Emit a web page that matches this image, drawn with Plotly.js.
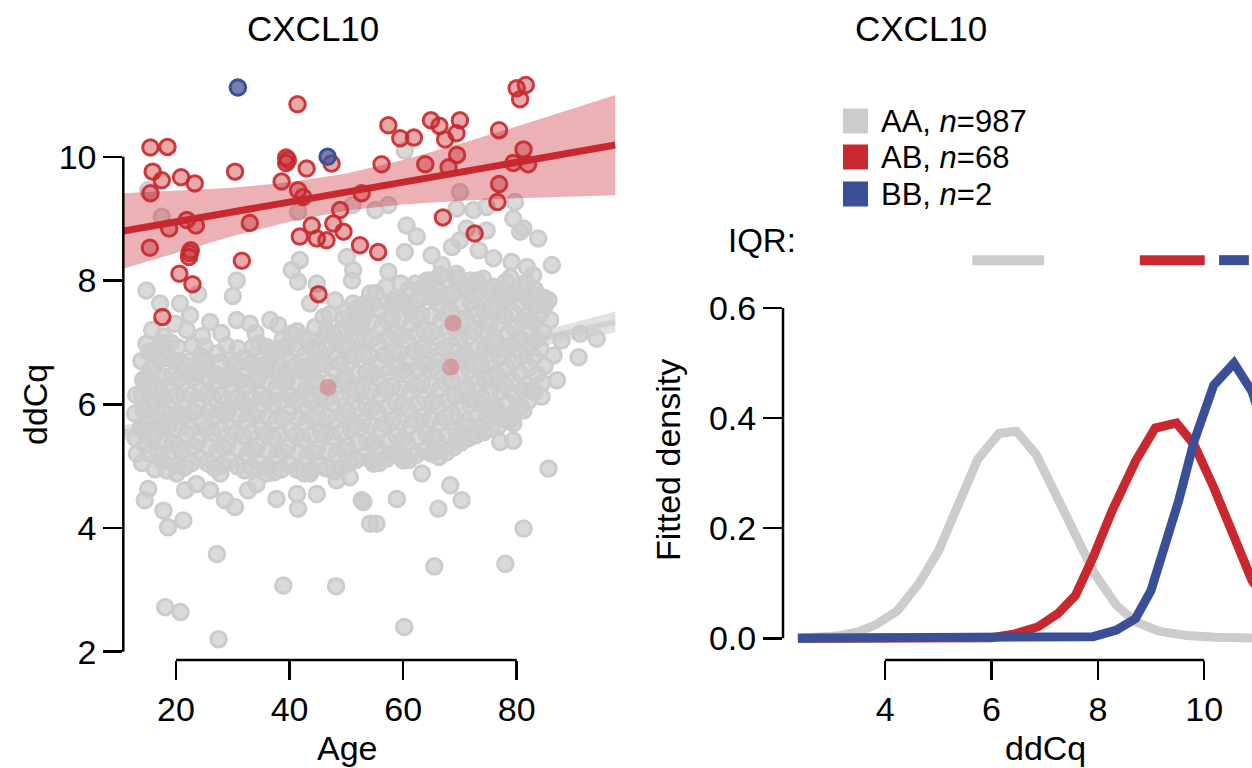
<!DOCTYPE html>
<html><head><meta charset="utf-8">
<script src="https://cdn.plot.ly/plotly-3.0.1.min.js"></script>
<style>html,body{margin:0;padding:0;background:#fff}#chart{width:1252px;height:768px}</style>
</head><body><div id="chart"></div>
<script>
// ---------- DATA ----------
const panelTitle = 'CXCL10';
const groupLabels = ['AA', 'AB', 'BB'];
const groupN = [987, 68, 2];

// AA genotype: [age, ddCq]
const aaPoints = [
 // upper / edge points
 [15.1,9.46],[17.5,9.03],[41.5,9.11],[51.1,9.22],[60.3,10.10],
 [40.4,8.17],[41.8,8.33],[41.5,7.98],[44.8,7.95],[50.1,8.38],[51.2,8.17],[51.0,8.00],[30.7,8.00],[30.0,7.75],
 [14.8,7.84],[17.2,7.63],[20.7,7.63],[23.9,7.78],[22.5,7.44],[26.0,7.33],[30.7,7.36],[33.0,7.30],[36.6,7.36],
 [38.0,7.28],[40.4,7.14],[43.6,7.63],[46.0,7.41],[48.0,7.68],[51.2,7.63],[46.5,7.14],[49.5,7.38],[53.0,7.41],
 [14.8,6.98],[17.8,7.09],[25.1,6.93],[27.2,6.82],[28.9,6.95],[32.2,6.76],[36.6,6.87],[21.9,7.20],[19.5,6.71],
 [14.2,6.39],[22.5,6.49],[25.4,6.60],[26.9,6.49],[30.1,6.44],[36.0,6.55],[39.5,6.49],[43.6,7.03],[42.4,6.60],
 [48.3,7.03],[51.8,7.25],[12.8,5.85],[13.0,6.15],[12.9,5.45],
 [15.8,7.20],[19.8,7.30],[24.6,7.10],[28.0,7.15],[34.0,7.15],[38.8,7.05],[44.5,7.25],[47.0,7.45],[50.0,7.50],
 // lower edge
 [13.1,5.20],[14.2,5.58],[15.1,4.63],[14.5,4.45],[17.8,4.28],[18.6,4.01],[21.3,4.12],[27.2,3.58],[18.4,4.93],
 [21.6,4.61],[23.6,4.71],[26.0,4.61],[28.6,4.45],[30.4,4.34],[32.7,4.61],[34.2,4.71],[37.7,4.47],[41.3,4.55],
 [41.5,4.31],[44.8,4.55],[48.3,4.77],[50.6,4.82],[52.7,4.45],[54.2,4.07],[20.1,4.88],[27.8,4.88],[36.0,4.88],[43.6,4.88],
 // low outliers
 [18.1,2.72],[20.8,2.64],[27.5,2.20],[38.9,3.07],[48.2,3.06],[60.2,2.40],[65.5,3.38],[78.0,3.42],
 // older ages
 [70.0,9.43],[69.4,9.16],[72.4,9.14],[74.7,9.19],[79.7,9.27],[57.4,9.22],[55.1,9.14],[60.6,8.89],[62.4,8.71],
 [60.3,8.46],[65.0,8.41],[66.8,8.25],[68.6,8.54],[70.0,8.65],[71.2,8.84],[74.7,8.81],[79.4,9.00],[81.2,8.84],
 [83.8,8.68],[80.6,8.79],[73.3,8.49],[66.5,8.09],[69.4,8.11],[75.9,8.36],[79.1,8.30],[81.8,8.22],[82.9,8.09],
 [86.2,8.25],[57.4,8.14],[54.2,7.79],[58.3,7.63],[63.6,7.90],[65.9,7.74],[71.8,8.00],[75.9,7.90],[78.8,7.74],
 [82.9,7.79],[85.6,7.68],[85.0,7.60],[85.9,7.36],[61.2,7.52],[82.4,7.36],[87.9,7.03],[91.2,7.14],[94.1,7.06],
 [86.5,6.79],[90.9,6.76],[87.1,6.39],[84.4,6.12],[82.6,6.22],[81.2,5.90],[79.4,5.69],[78.8,5.74],[77.1,5.39],
 [79.4,5.41],[85.6,4.96],[68.3,4.69],[70.3,4.45],[66.2,4.31],[58.9,4.47],[53.0,4.42],[55.3,4.07],[81.2,3.99],
 [63.3,4.88],[65.6,5.25],[69.4,5.41],[73.5,5.63],[75.3,5.95],[77.1,5.79],[60.0,5.09],[57.7,5.20],[54.8,5.04],
 // dense core
 [14.0,5.05],[14.5,5.35],[13.8,5.62],[14.3,5.90],[14.0,6.15],[14.6,6.42],[13.9,6.70],
 [16.3,4.95],[16.8,5.22],[16.1,5.48],[16.6,5.76],[16.2,6.03],[16.7,6.30],[16.0,6.58],[16.5,6.85],
 [18.9,5.10],[19.4,5.37],[18.7,5.65],[19.2,5.92],[18.8,6.20],[19.3,6.47],[18.6,6.75],[19.1,7.00],
 [21.5,4.98],[21.0,5.25],[21.8,5.52],[21.2,5.80],[21.6,6.08],[21.1,6.35],[21.7,6.62],
 [24.2,5.12],[23.8,5.40],[24.5,5.68],[23.9,5.95],[24.4,6.22],[23.7,6.50],[24.3,6.78],
 [26.8,4.97],[27.3,5.25],[26.6,5.53],[27.1,5.82],[26.5,6.10],[27.2,6.38],
 [29.5,5.08],[29.0,5.35],[29.8,5.62],[29.2,5.90],[29.7,6.18],[29.1,6.45],[29.6,6.72],
 [32.1,4.93],[32.6,5.20],[31.9,5.48],[32.4,5.75],[31.8,6.03],[32.5,6.30],[32.0,6.58],
 [34.8,5.05],[34.3,5.33],[35.1,5.60],[34.5,5.88],[35.0,6.15],[34.4,6.42],[34.9,6.70],[34.6,6.98],
 [37.3,4.90],[37.8,5.18],[37.1,5.45],[37.6,5.73],[37.0,6.00],[37.7,6.28],[37.2,6.55],[37.5,6.83],
 [40.0,5.02],[39.6,5.30],[40.3,5.57],[39.8,5.85],[40.2,6.12],[39.5,6.40],[40.1,6.68],[39.7,6.95],
 [42.6,4.88],[43.0,5.15],[42.3,5.43],[42.8,5.70],[42.4,5.98],[42.9,6.25],[42.2,6.53],[42.7,6.80],[42.5,7.08],
 [45.2,5.00],[44.8,5.28],[45.5,5.55],[45.0,5.83],[45.4,6.10],[44.7,6.38],[45.3,6.65],[44.9,6.93],
 [47.9,4.92],[48.3,5.20],[47.6,5.47],[48.1,5.75],[47.5,6.02],[48.2,6.30],[47.7,6.57],[48.0,6.85],[47.8,7.12],
 [50.5,5.05],[50.1,5.32],[50.8,5.60],[50.2,5.87],[50.7,6.15],[50.0,6.42],[50.6,6.70],[50.3,6.97],[50.9,7.25],
 [53.1,5.15],[53.6,5.42],[52.9,5.70],[53.4,5.97],[52.8,6.25],[53.5,6.52],[53.0,6.80],[53.3,7.07],[52.7,7.35],[53.2,7.62],
 [55.8,5.05],[55.3,5.32],[56.1,5.60],[55.5,5.88],[56.0,6.15],[55.4,6.43],[55.9,6.70],[55.6,6.98],[56.2,7.25],[55.7,7.52],[55.2,7.80],
 [58.4,5.20],[58.9,5.48],[58.2,5.75],[58.7,6.03],[58.1,6.30],[58.8,6.58],[58.3,6.85],[58.6,7.13],[58.0,7.40],[58.5,7.68],
 [61.0,5.10],[60.6,5.38],[61.3,5.65],[60.8,5.93],[61.2,6.20],[60.5,6.48],[61.1,6.75],[60.7,7.03],[61.4,7.30],[60.9,7.58],[61.0,7.85],
 [63.7,5.25],[64.1,5.52],[63.4,5.80],[63.9,6.08],[63.3,6.35],[64.0,6.63],[63.5,6.90],[63.8,7.18],[63.2,7.45],[63.6,7.73],[64.2,8.00],
 [66.3,5.15],[65.9,5.43],[66.6,5.70],[66.1,5.98],[66.5,6.25],[65.8,6.53],[66.4,6.80],[66.0,7.08],[66.7,7.35],[66.2,7.63],[65.7,7.90],
 [68.9,5.30],[69.3,5.58],[68.6,5.85],[69.1,6.13],[68.5,6.40],[69.2,6.68],[68.7,6.95],[69.0,7.23],[68.4,7.50],[68.8,7.78],[69.4,8.05],
 [71.5,5.45],[71.1,5.72],[71.8,6.00],[71.3,6.27],[71.7,6.55],[71.0,6.82],[71.6,7.10],[71.2,7.37],[71.9,7.65],[71.4,7.92],
 [74.2,5.55],[74.6,5.83],[73.9,6.10],[74.4,6.38],[73.8,6.65],[74.5,6.93],[74.0,7.20],[74.3,7.48],[73.7,7.75],[74.1,8.03],
 [76.8,5.65],[76.4,5.92],[77.1,6.20],[76.6,6.47],[77.0,6.75],[76.3,7.02],[76.9,7.30],[76.5,7.57],[77.2,7.85],
 [79.4,5.85],[79.8,6.12],[79.1,6.40],[79.6,6.67],[79.0,6.95],[79.7,7.22],[79.2,7.50],[79.5,7.77],[78.9,8.05],
 [82.0,6.05],[81.6,6.32],[82.3,6.60],[81.8,6.87],[82.2,7.15],[81.5,7.42],[82.1,7.70],[81.7,7.97],
 [84.5,6.35],[84.9,6.62],[84.2,6.90],[84.7,7.17],[84.1,7.45],[84.8,7.72],
 // dense core, second layer
 [15.2,5.20],[15.4,5.48],[15.0,5.76],[15.3,6.03],[15.1,6.30],[15.5,6.57],[15.2,6.85],
 [17.6,5.08],[17.9,5.36],[17.4,5.62],[17.7,5.90],[17.5,6.16],[17.8,6.44],[17.3,6.72],[17.6,6.98],
 [20.2,5.02],[20.5,5.30],[20.0,5.58],[20.4,5.86],[20.1,6.14],[20.6,6.42],[19.9,6.70],[20.3,6.92],
 [22.8,5.05],[23.1,5.32],[22.6,5.60],[23.0,5.88],[22.7,6.15],[23.2,6.43],[22.5,6.70],[22.9,6.95],
 [25.5,5.05],[25.8,5.32],[25.3,5.60],[25.7,5.88],[25.4,6.16],[25.9,6.44],[25.2,6.72],
 [28.1,5.02],[28.4,5.30],[27.9,5.58],[28.3,5.86],[28.0,6.14],[28.5,6.42],[27.8,6.68],
 [30.8,5.00],[31.1,5.28],[30.6,5.55],[31.0,5.82],[30.7,6.10],[31.2,6.38],[30.5,6.65],[30.9,6.90],
 [33.4,4.98],[33.7,5.26],[33.2,5.54],[33.6,5.82],[33.3,6.10],[33.8,6.38],[33.1,6.66],[33.5,6.92],
 [36.0,4.97],[36.3,5.25],[35.8,5.52],[36.2,5.80],[35.9,6.08],[36.4,6.36],[35.7,6.64],[36.1,6.92],
 [38.6,4.95],[38.9,5.23],[38.4,5.50],[38.8,5.78],[38.5,6.06],[39.0,6.34],[38.3,6.62],[38.7,6.90],
 [41.3,4.94],[41.6,5.22],[41.1,5.50],[41.5,5.78],[41.2,6.06],[41.7,6.34],[41.0,6.62],[41.4,6.90],[41.3,7.18],
 [43.9,4.94],[44.2,5.22],[43.7,5.50],[44.1,5.78],[43.8,6.06],[44.3,6.34],[43.6,6.62],[44.0,6.90],
 [46.5,4.96],[46.8,5.24],[46.3,5.52],[46.7,5.80],[46.4,6.08],[46.9,6.36],[46.2,6.64],[46.6,6.92],[46.5,7.20],
 [49.2,4.98],[49.5,5.26],[49.0,5.54],[49.4,5.82],[49.1,6.10],[49.6,6.38],[48.9,6.66],[49.3,6.94],[49.2,7.22],
 [51.8,5.10],[52.1,5.38],[51.6,5.66],[52.0,5.94],[51.7,6.22],[52.2,6.50],[51.5,6.78],[51.9,7.06],[51.8,7.34],[52.0,7.55],
 [54.4,5.10],[54.7,5.38],[54.2,5.66],[54.6,5.94],[54.3,6.22],[54.8,6.50],[54.1,6.78],[54.5,7.06],[54.4,7.34],[54.6,7.62],
 [57.1,5.12],[57.4,5.40],[56.9,5.68],[57.3,5.96],[57.0,6.24],[57.5,6.52],[56.8,6.80],[57.2,7.08],[57.1,7.36],[57.3,7.64],[57.0,7.90],
 [59.7,5.15],[60.0,5.43],[59.5,5.71],[59.9,5.99],[59.6,6.27],[60.1,6.55],[59.4,6.83],[59.8,7.11],[59.7,7.39],[59.9,7.67],[59.6,7.95],
 [62.3,5.18],[62.6,5.46],[62.1,5.74],[62.5,6.02],[62.2,6.30],[62.7,6.58],[62.0,6.86],[62.4,7.14],[62.3,7.42],[62.5,7.70],[62.2,7.95],
 [65.0,5.20],[65.3,5.48],[64.8,5.76],[65.2,6.04],[64.9,6.32],[65.4,6.60],[64.7,6.88],[65.1,7.16],[65.0,7.44],[65.2,7.72],[64.9,8.00],
 [67.6,5.22],[67.9,5.50],[67.4,5.78],[67.8,6.06],[67.5,6.34],[68.0,6.62],[67.3,6.90],[67.7,7.18],[67.6,7.46],[67.8,7.74],[67.5,8.02],
 [70.2,5.38],[70.5,5.66],[70.0,5.94],[70.4,6.22],[70.1,6.50],[70.6,6.78],[69.9,7.06],[70.3,7.34],[70.2,7.62],[70.4,7.90],
 [72.8,5.50],[73.1,5.78],[72.6,6.06],[73.0,6.34],[72.7,6.62],[73.2,6.90],[72.5,7.18],[72.9,7.46],[72.8,7.74],[73.0,8.00],
 [75.5,5.60],[75.8,5.88],[75.3,6.16],[75.7,6.44],[75.4,6.72],[75.9,7.00],[75.2,7.28],[75.6,7.56],[75.5,7.84],
 [78.1,5.75],[78.4,6.03],[77.9,6.31],[78.3,6.59],[78.0,6.87],[78.5,7.15],[77.8,7.43],[78.2,7.71],[78.1,7.98],
 [80.7,5.95],[81.0,6.23],[80.5,6.51],[80.9,6.79],[80.6,7.07],[81.1,7.35],[80.4,7.63],[80.8,7.91],
 [83.2,6.20],[83.5,6.48],[83.0,6.76],[83.4,7.04],[83.1,7.32],[83.6,7.60],[83.2,7.85]
];

// AB genotype: [age, ddCq]
const abPoints = [
 [15.5,10.15],[18.5,10.16],[15.9,9.76],[17.5,9.62],[20.9,9.67],[23.3,9.57],[15.5,9.41],[30.4,9.76],
 [39.4,9.99],[39.4,9.90],[43.0,9.81],[38.6,9.60],[41.5,9.46],[42.4,9.35],[47.4,9.89],[21.9,8.98],
 [23.5,8.89],[18.8,8.84],[33.0,8.93],[15.4,8.53],[22.6,8.49],[22.3,8.38],[20.6,8.11],[22.9,7.94],
 [17.6,7.41],[31.6,8.32],[52.7,9.41],[48.9,9.14],[43.9,8.89],[41.8,8.71],[44.8,8.68],[46.5,8.65],
 [47.7,8.92],[49.5,8.79],[52.4,8.57],[45.1,7.78],[56.2,9.88],[63.9,9.88],[68.0,9.83],[69.5,10.03],
 [79.4,9.90],[81.2,10.12],[82.0,9.88],[76.9,9.56],[76.6,9.27],[67.0,9.02],[72.6,8.76],[55.6,8.46],
 [57.4,10.51],[59.5,10.30],[61.9,10.31],[64.9,10.59],[66.4,10.50],[67.4,10.28],[69.4,10.38],[70.0,10.59],
 [76.9,10.43],[80.0,11.11],[81.6,11.16],[80.6,10.93],[41.4,10.85],[39.7,9.95],[22.4,8.44]
];
// AB points hidden under the AA cloud
const abCoveredPoints = [[68.8,7.31],[68.4,6.60],[46.8,6.27]];

// BB genotype: [age, ddCq]
const bbPoints = [[30.9,11.12],[46.7,10.00]];

// linear fits with confidence bands
const fitAge  = [10.72, 20, 30, 40, 50, 60, 70, 80, 90, 97.4];
const abFit   = [8.80, 8.95, 9.11, 9.27, 9.43, 9.59, 9.75, 9.91, 10.07, 10.19];
const abUpper = [9.41, 9.45, 9.50, 9.59, 9.73, 9.95, 10.21, 10.49, 10.78, 11.00];
const abLower = [8.19, 8.45, 8.72, 8.95, 9.13, 9.23, 9.29, 9.33, 9.36, 9.38];
const aaFit   = [5.54, 5.73, 5.94, 6.14, 6.35, 6.56, 6.76, 6.97, 7.18, 7.33];
const aaUpper = [5.66, 5.82, 6.01, 6.19, 6.40, 6.62, 6.84, 7.08, 7.32, 7.50];
const aaLower = [5.42, 5.64, 5.87, 6.09, 6.30, 6.50, 6.68, 6.86, 7.04, 7.16];

// fitted densities
const aaDensX = [2.36, 3.10, 3.50, 3.83, 4.23, 4.64, 5.00, 5.34, 5.74, 6.14, 6.47, 6.84, 7.21, 7.58, 7.94, 8.35, 8.71, 9.15, 9.67, 10.20, 10.90, 11.30];
const aaDensY = [0.000, 0.004, 0.012, 0.025, 0.050, 0.100, 0.158, 0.238, 0.325, 0.372, 0.376, 0.334, 0.262, 0.184, 0.117, 0.060, 0.030, 0.013, 0.005, 0.002, 0.001, 0.000];
const abDensX = [2.36, 6.00, 6.44, 6.88, 7.25, 7.58, 7.91, 8.27, 8.71, 9.08, 9.48, 9.81, 10.18, 10.55, 10.90, 11.30];
const abDensY = [0.000, 0.001, 0.008, 0.021, 0.045, 0.078, 0.147, 0.232, 0.322, 0.382, 0.391, 0.352, 0.274, 0.184, 0.105, 0.050];
const bbDensX = [2.36, 7.50, 7.91, 8.35, 8.71, 9.00, 9.26, 9.52, 9.81, 10.18, 10.56, 10.90, 11.30];
const bbDensY = [0.000, 0.000, 0.003, 0.015, 0.036, 0.087, 0.165, 0.250, 0.358, 0.460, 0.500, 0.448, 0.330];

// interquartile ranges of ddCq per genotype
const iqrLow  = [5.64, 8.79, 10.28];
const iqrHigh = [6.99, 10.01, 10.84];

// ticks
const ageTicks = [20, 40, 60, 80];
const ddcqTicks = [2, 4, 6, 8, 10];
const densTicks = [0, 0.2, 0.4, 0.6];
const densTickText = ['0.0', '0.2', '0.4', '0.6'];
const ddcqTicks2 = [4, 6, 8, 10];

// ---------- STYLE ----------
const FONT = 'Liberation Sans, Arial, Helvetica, sans-serif';
const GRAY = '#cccccc', RED = '#c8282e', BLUE = '#3b4f96';
const colors = [GRAY, RED, BLUE];
const TICKF = {family: FONT, size: 34, color: '#000'};

const col = (arr, i) => arr.map(p => p[i]);

const traces = [];
// AA band + fit
traces.push({x: fitAge.concat(fitAge.slice().reverse()), y: aaUpper.concat(aaLower.slice().reverse()),
  type: 'scatter', mode: 'lines', fill: 'toself', fillcolor: '#e2e2e2', line: {width: 0}, hoverinfo: 'skip', xaxis: 'x', yaxis: 'y'});
traces.push({x: fitAge, y: aaFit, type: 'scatter', mode: 'lines', line: {color: '#d2d2d2', width: 6}, xaxis: 'x', yaxis: 'y'});
// AA points
traces.push({x: col(aaPoints, 0), y: col(aaPoints, 1), type: 'scatter', mode: 'markers', cliponaxis: false,
  marker: {size: 15.5, color: 'rgba(204,204,204,0.72)', line: {color: GRAY, width: 3}}, xaxis: 'x', yaxis: 'y'});
// AB covered points
traces.push({x: col(abCoveredPoints, 0), y: col(abCoveredPoints, 1), type: 'scatter', mode: 'markers',
  marker: {size: 17, color: 'rgba(214,110,115,0.5)', line: {width: 0}}, xaxis: 'x', yaxis: 'y'});
// AB band + fit
traces.push({x: fitAge.concat(fitAge.slice().reverse()), y: abUpper.concat(abLower.slice().reverse()),
  type: 'scatter', mode: 'lines', fill: 'toself', fillcolor: 'rgba(200,40,46,0.36)', line: {width: 0}, hoverinfo: 'skip', xaxis: 'x', yaxis: 'y'});
traces.push({x: fitAge, y: abFit, type: 'scatter', mode: 'lines', line: {color: RED, width: 7}, xaxis: 'x', yaxis: 'y'});
// AB points
traces.push({x: col(abPoints, 0), y: col(abPoints, 1), type: 'scatter', mode: 'markers', cliponaxis: false,
  marker: {size: 15.5, color: 'rgba(200,40,46,0.40)', line: {color: 'rgba(198,40,46,0.9)', width: 3}}, xaxis: 'x', yaxis: 'y'});
// BB points
traces.push({x: col(bbPoints, 0), y: col(bbPoints, 1), type: 'scatter', mode: 'markers', cliponaxis: false,
  marker: {size: 15.5, color: 'rgba(59,79,150,0.72)', line: {color: BLUE, width: 3}}, xaxis: 'x', yaxis: 'y'});

// densities
[[aaDensX, aaDensY], [abDensX, abDensY], [bbDensX, bbDensY]].forEach((d, i) => {
  traces.push({x: d[0], y: d[1], type: 'scatter', mode: 'lines', line: {color: colors[i], width: 9},
    xaxis: 'x2', yaxis: 'y2'});
});
// IQR bars
const IQR_Y = 0.687;
iqrLow.forEach((lo, i) => {
  traces.push({x: [lo, iqrHigh[i]], y: [IQR_Y, IQR_Y], type: 'scatter', mode: 'lines',
    line: {color: colors[i], width: 10}, xaxis: 'x2', yaxis: 'y2'});
});

const axisBase = {showgrid: false, zeroline: false, showline: false, ticks: 'outside', ticklen: 19,
  tickwidth: 2.5, tickcolor: '#000', tickfont: TICKF, fixedrange: true};
const AX_BOTTOM = 0.140625;

const layout = {
  width: 1252, height: 768, margin: {l: 0, r: 0, t: 0, b: 0},
  paper_bgcolor: '#fff', plot_bgcolor: 'rgba(0,0,0,0)', showlegend: false,
  xaxis: Object.assign({}, axisBase, {domain: [0.09848, 0.49161], range: [10.72, 97.4], anchor: 'y',
    tickvals: ageTicks, ticktext: ageTicks.map(String)}),
  yaxis: Object.assign({}, axisBase, {domain: [AX_BOTTOM, 0.91263], range: [1.866, 11.45], anchor: 'x',
    tickvals: ddcqTicks, ticktext: ddcqTicks.map(String)}),
  xaxis2: Object.assign({}, axisBase, {domain: [0.62540, 1.0], range: [2.08, 10.899], anchor: 'y2',
    tickvals: ddcqTicks2, ticktext: ddcqTicks2.map(String)}),
  yaxis2: Object.assign({}, axisBase, {domain: [AX_BOTTOM, 0.68490], range: [-0.0394, 0.72], anchor: 'x2',
    tickvals: densTicks, ticktext: densTickText}),
  shapes: [
    {type: 'line', xref: 'paper', yref: 'y', x0: 0.09848, x1: 0.09848, y0: ddcqTicks[0], y1: ddcqTicks[ddcqTicks.length-1], line: {color: '#000', width: 2.5}},
    {type: 'line', xref: 'x', yref: 'paper', x0: ageTicks[0], x1: ageTicks[ageTicks.length-1], y0: AX_BOTTOM, y1: AX_BOTTOM, line: {color: '#000', width: 2.5}},
    {type: 'line', xref: 'paper', yref: 'y2', x0: 0.62540, x1: 0.62540, y0: densTicks[0], y1: densTicks[densTicks.length-1], line: {color: '#000', width: 2.5}},
    {type: 'line', xref: 'x2', yref: 'paper', x0: ddcqTicks2[0], x1: ddcqTicks2[ddcqTicks2.length-1], y0: AX_BOTTOM, y1: AX_BOTTOM, line: {color: '#000', width: 2.5}}
  ],
  annotations: []
};

const ann = (text, x, y, size, extra) => Object.assign({text: text, x: x, y: y, xref: 'paper', yref: 'paper',
  showarrow: false, xanchor: 'center', yanchor: 'middle', font: {family: FONT, size: size, color: '#000'}}, extra || {});

layout.annotations.push(ann(panelTitle, 313/1252, 1 - 28/768, 35));
layout.annotations.push(ann(panelTitle, 921/1252, 1 - 28/768, 35));
layout.annotations.push(ann('ddCq', 35/1252, 1 - 405/768, 34, {textangle: -90}));
layout.annotations.push(ann('Age', 347/1252, 1 - 748/768, 34));
layout.annotations.push(ann('Fitted density', 668/1252, 1 - 460/768, 34, {textangle: -90}));
layout.annotations.push(ann('ddCq', 1045/1252, 1 - 748/768, 34));
layout.annotations.push(ann('IQR:', 762/1252, 1 - 240/768, 33));

// legend (squares + labels)
const legRows = [121, 157, 194];
groupLabels.forEach((g, i) => {
  const yc = legRows[i];
  layout.shapes.push({type: 'rect', xref: 'paper', yref: 'paper', x0: 843/1252, x1: 868/1252,
    y0: 1 - (yc + 12.5)/768, y1: 1 - (yc - 12.5)/768, fillcolor: colors[i], line: {width: 0}});
  layout.annotations.push(ann(g + ', <i>n</i>=' + groupN[i], 879/1252, 1 - yc/768, 31, {xanchor: 'left'}));
});

Plotly.newPlot('chart', traces, layout, {displayModeBar: false, staticPlot: true});
</script></body></html>
